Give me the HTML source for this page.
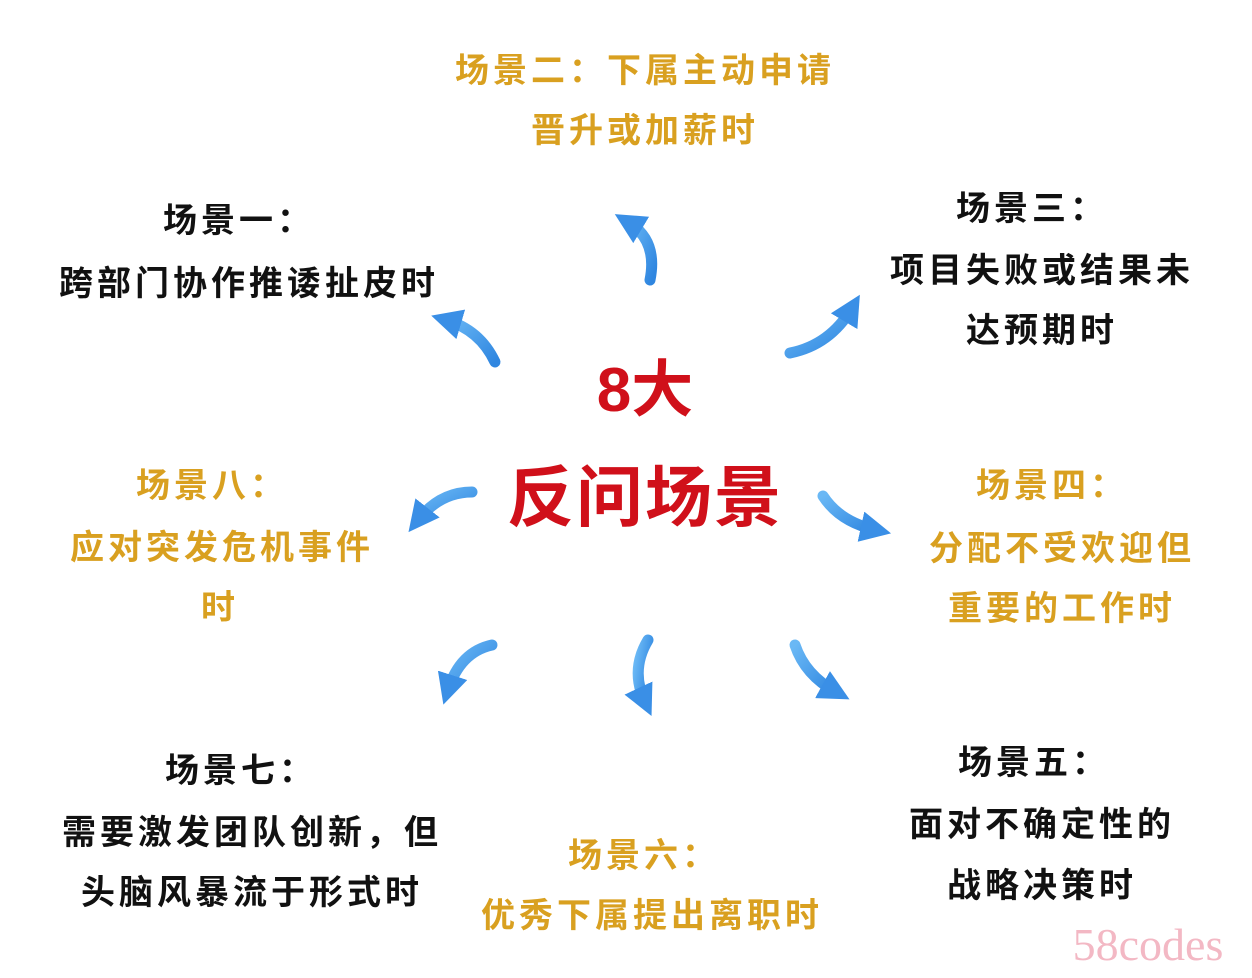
<!DOCTYPE html>
<html><head><meta charset="utf-8"><style>
html,body{margin:0;padding:0;background:#fff;}
svg{display:block;}
text{font-family:"Liberation Sans","Noto Sans CJK SC",sans-serif;font-weight:700;text-anchor:middle;}
.g{fill:#d9a020;font-size:34px;letter-spacing:4px;}
.b{fill:#111;font-size:34px;letter-spacing:4px;}
.r{fill:#d0101a;}
</style></head><body>
<svg width="1252" height="978" viewBox="0 0 1252 978" xmlns="http://www.w3.org/2000/svg">
<defs>
<linearGradient id="ag" x1="0" y1="0" x2="1" y2="1"><stop offset="0" stop-color="#6ab8f5"/><stop offset="1" stop-color="#2f86e0"/></linearGradient>
<marker id="h" viewBox="0 0 10 10" refX="5" refY="5" markerWidth="2.8" markerHeight="2.8" orient="auto"><path d="M0,0 L10,5 L0,10 Z" fill="#3a8fe6"/></marker>
</defs>
<g fill="none" stroke="url(#ag)" stroke-width="11" stroke-linecap="round" marker-end="url(#h)">
<path d="M650,280 Q658,240 628,222"/>
<path d="M495,362 Q480,330 446,320"/>
<path d="M790,353 Q830,345 852,308"/>
<path d="M472,492 Q440,492 418,520"/>
<path d="M823,496 Q840,522 876,530"/>
<path d="M492,645 Q460,652 448,690"/>
<path d="M648,640 Q630,670 645,702"/>
<path d="M795,645 Q805,675 836,692"/>
</g>
<text class="g" x="645" y="82">场景二：下属主动申请</text>
<text class="g" x="645" y="142">晋升或加薪时</text>
<text class="b" x="239" y="232">场景一：</text>
<text class="b" x="249" y="295">跨部门协作推诿扯皮时</text>
<text class="b" x="1032" y="220">场景三：</text>
<text class="b" x="1042" y="282">项目失败或结果未</text>
<text class="b" x="1042" y="342">达预期时</text>
<text class="r" x="645" y="411" style="font-size:62px">8大</text>
<text class="r" x="645" y="521" style="font-size:67px;letter-spacing:2px">反问场景</text>
<text class="g" x="212" y="497">场景八：</text>
<text class="g" x="222" y="559">应对突发危机事件</text>
<text class="g" x="220" y="619">时</text>
<text class="g" x="1052" y="497">场景四：</text>
<text class="g" x="1062" y="560">分配不受欢迎但</text>
<text class="g" x="1062" y="620">重要的工作时</text>
<text class="b" x="241" y="782">场景七：</text>
<text class="b" x="252" y="844">需要激发团队创新，但</text>
<text class="b" x="252" y="904">头脑风暴流于形式时</text>
<text class="b" x="1034" y="774">场景五：</text>
<text class="b" x="1042" y="836">面对不确定性的</text>
<text class="b" x="1042" y="897">战略决策时</text>
<text class="g" x="644" y="867">场景六：</text>
<text class="g" x="652" y="927">优秀下属提出离职时</text>
<text x="1148" y="960" style="font-family:'Liberation Serif',serif;font-weight:400;font-size:46px;fill:#f3b8c4">58codes</text>
</svg>
</body></html>
